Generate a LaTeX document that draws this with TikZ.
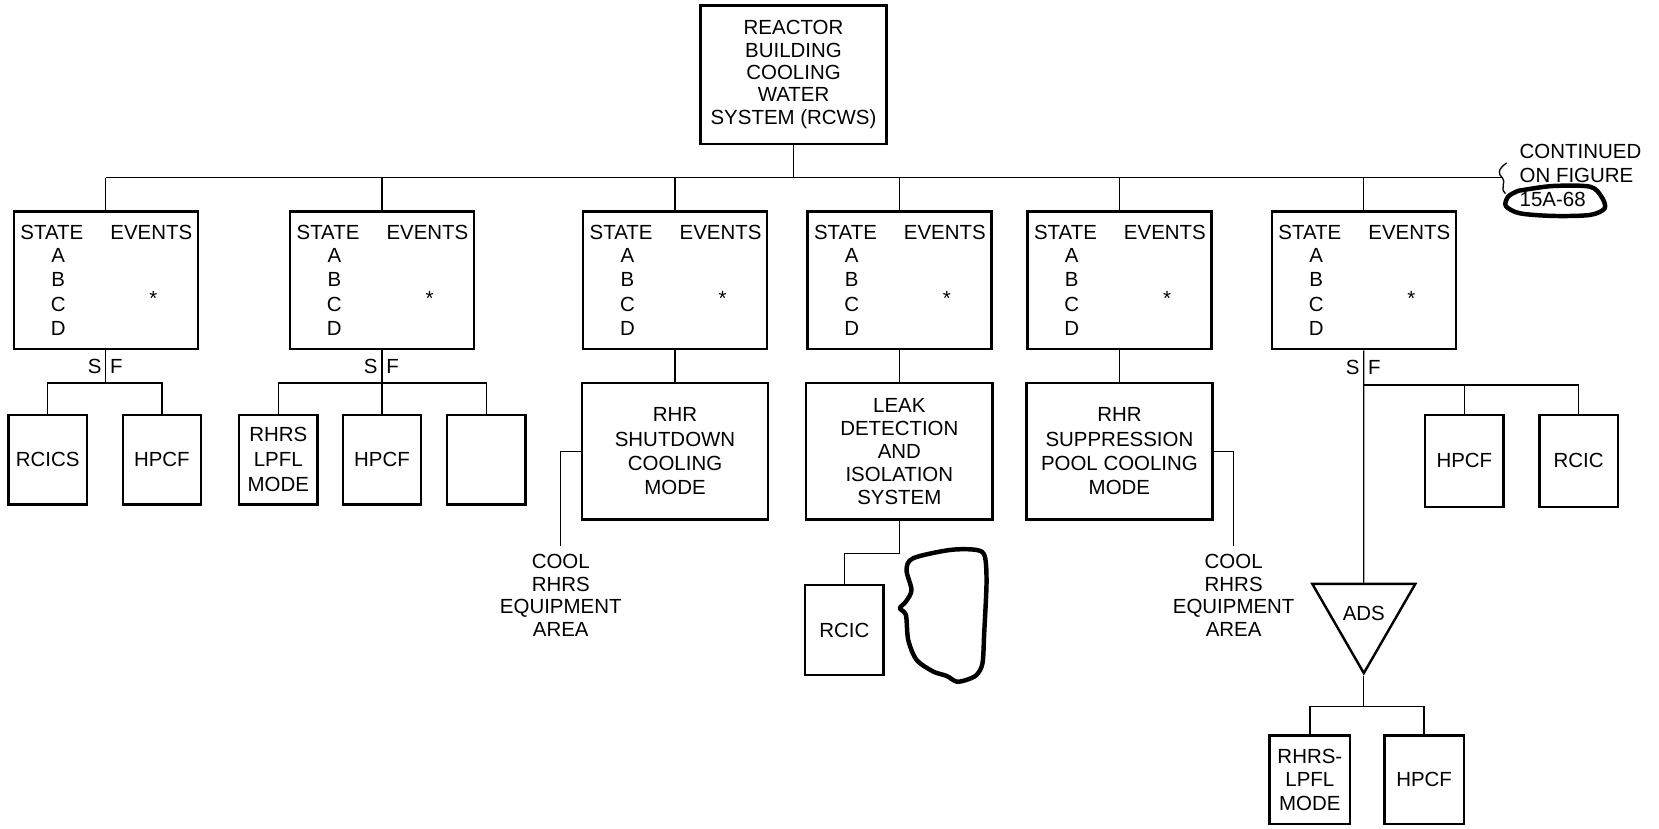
\documentclass[tikz,border=0pt]{standalone}
\usepackage{fontspec}
\setmainfont{Liberation Sans}
\usepackage{tikz}
\usetikzlibrary{positioning, shapes.geometric}

\begin{document}
\begin{tikzpicture}[x=0.02cm, y=-0.02cm]
    % Define styles for the boxes and lines
    \tikzstyle{every node} = [font=\fontsize{11}{12.5}\selectfont]
    \tikzstyle{box} = [draw, line width=1.3pt, rectangle, inner sep=0pt, align=center]
    \tikzstyle{statebox} = [box, minimum width=3.48cm, minimum height=2.6cm]
    \tikzstyle{bigbox} = [box, minimum width=3.52cm, minimum height=2.58cm]
    \tikzstyle{smallbox} = [box, minimum width=1.48cm, minimum height=1.7cm]
    \tikzstyle{lbl} = [inner sep=0pt]
    \tikzstyle{conn} = [line width=0.7pt]
    \tikzstyle{scribble} = [line width=2.4pt, line join=round, line cap=round]

    \useasboundingbox (0,0) rectangle (1568,783);

    % Top system box
    \node [box, minimum width=3.52cm, minimum height=2.62cm, font=\fontsize{11}{12}\selectfont] (rcws) at (750,70.5) {REACTOR\\BUILDING\\COOLING\\WATER\\SYSTEM (RCWS)};

    % Main bus with break mark
    \coordinate (busL) at (100,168);
    \coordinate (busR) at (1420,168);
    \draw [conn] (rcws.south) -- (rcws.south |- busL);
    \draw [conn] (busL) -- (busR);
    \draw [conn] (1424,154) .. controls (1415,160) and (1416,165) .. (busR) .. controls (1424,172) and (1417,178) .. (1423,183);
    \node [lbl, anchor=north west, align=left, font=\fontsize{11}{13}\selectfont] (cont) at (1436,136) {CONTINUED\\ON FIGURE\\15A-68};
    \draw [scribble] plot [smooth cycle] coordinates {(1439.5,179.6) (1467.9,175.8) (1502.6,176.4) (1513.6,185.9) (1516.7,196.9) (1502.6,203.2) (1467.9,204.1) (1436.4,201.6) (1423.2,194.7) (1425.4,185.9) (1433.3,181.1)};

    % State boxes
    \foreach \n/\cx in {1/100, 2/361, 3/638, 4/850, 5/1058, 6/1289} {
        \node [statebox] (st\n) at (\cx,265) {};
        \node [lbl, anchor=base west] (st\n-state) at (\cx-81,226) {STATE};
        \node [lbl, anchor=base east] (st\n-events) at (\cx+82,226) {EVENTS};
        \foreach \l/\y in {A/248,B/271,C/294,D/317}
            \node [lbl, anchor=base] (st\n-\l) at (\cx-45,\y) {\l};
        \node [lbl, anchor=base] (st\n-star) at (\cx+45,289) {*};
        \draw [conn] (st\n.north) -- (st\n.north |- busL);
    }

    % First branch
    \node [smallbox] (rcics) at (45,434.5) {RCICS};
    \node [smallbox] (hpcfA) at (153,434.5) {HPCF};
    \coordinate (j1) at (100,362);
    \draw [conn] (st1.south) -- node [lbl, left=2pt] (s1) {S} node [lbl, right=2pt] (f1) {F} (j1);
    \draw [conn] (rcics.north) -- (rcics.north |- j1) -- (hpcfA.north |- j1) -- (hpcfA.north);

    % Second branch
    \node [smallbox, font=\fontsize{11}{13.5}\selectfont] (lpflA) at (263,434.5) {RHRS\\LPFL\\MODE};
    \node [smallbox] (hpcfB) at (361,434.5) {HPCF};
    \node [smallbox] (blank) at (459.5,434.5) {};
    \coordinate (j2) at (361,362);
    \draw [conn] (st2.south) -- node [lbl, left=2pt] (s2) {S} node [lbl, right=2pt] (f2) {F} (j2) -- (hpcfB.north);
    \draw [conn] (lpflA.north) -- (lpflA.north |- j2) -- (blank.north |- j2) -- (blank.north);

    % Third branch
    \node [bigbox, font=\fontsize{11}{13}\selectfont] (shutdown) at (638,426.5) {RHR\\SHUTDOWN\\COOLING\\MODE};
    \node [lbl, anchor=north, inner sep=4.5pt, align=center, font=\fontsize{11}{12.1}\selectfont] (coolA) at (530,516) {COOL\\RHRS\\EQUIPMENT\\AREA};
    \draw [conn] (st3.south) -- (shutdown.north);
    \draw [conn] (shutdown.west) -| (coolA.north);

    % Fourth branch
    \node [bigbox, font=\fontsize{11}{12.4}\selectfont] (leak) at (850,426.5) {LEAK\\DETECTION\\AND\\ISOLATION\\SYSTEM};
    \node [smallbox] (rcicA) at (798,595.5) {RCIC};
    \draw [conn] (st4.south) -- (leak.north);
    \draw [conn] (leak.south) -- ++(0,31) -| (rcicA.north);
    \draw [scribble] plot [smooth cycle] coordinates {(856.8,538.7) (863.1,527.6) (897.8,519.8) (923,519.8) (930.8,526) (932.4,551.2) (930.2,598.5) (928.6,626.8) (923,637.9) (913.5,642.6) (904,644.2) (894.6,638.8) (882,634.7) (866.3,623.7) (858.4,604.8) (856.2,581.2) (850.5,574.9) (856.2,568.6) (861.5,557.6)};

    % Fifth branch
    \node [bigbox, font=\fontsize{11}{13}\selectfont] (pool) at (1058,426.5) {RHR\\SUPPRESSION\\POOL COOLING\\MODE};
    \node [lbl, anchor=north, inner sep=4.5pt, align=center, font=\fontsize{11}{12.1}\selectfont] (coolB) at (1166,516) {COOL\\RHRS\\EQUIPMENT\\AREA};
    \draw [conn] (st5.south) -- (pool.north);
    \draw [conn] (pool.east) -| (coolB.north);

    % Sixth branch
    \node [smallbox, minimum height=1.74cm] (hpcfC) at (1384,435.5) {HPCF};
    \node [smallbox, minimum height=1.74cm] (rcicB) at (1492,435.5) {RCIC};
    \node [draw, line width=1.3pt, regular polygon, regular polygon sides=3, shape border rotate=180, minimum size=2.12cm, inner sep=0pt] (ads) at (1289,580) {ADS};
    \coordinate (j6) at (1289,364);
    \draw [conn] (st6.south) -- node [lbl, left=2pt] (s6) {S} node [lbl, right=2pt] (f6) {F} (j6) -- (ads.north);
    \draw [conn] (j6) -- (j6 -| rcicB.north) -- (rcicB.north);
    \draw [conn] (hpcfC.north |- j6) -- (hpcfC.north);
    \node [smallbox, minimum width=1.52cm, minimum height=1.68cm] (lpflB) at (1238,737) {RHRS-\\LPFL\\MODE};
    \node [smallbox, minimum width=1.5cm, minimum height=1.68cm] (hpcfD) at (1346,737) {HPCF};
    \draw [conn] (ads.south) -- ++(0,29) coordinate (j7);
    \draw [conn] (lpflB.north) -- (lpflB.north |- j7) -- (hpcfD.north |- j7) -- (hpcfD.north);
\end{tikzpicture}
\end{document}
